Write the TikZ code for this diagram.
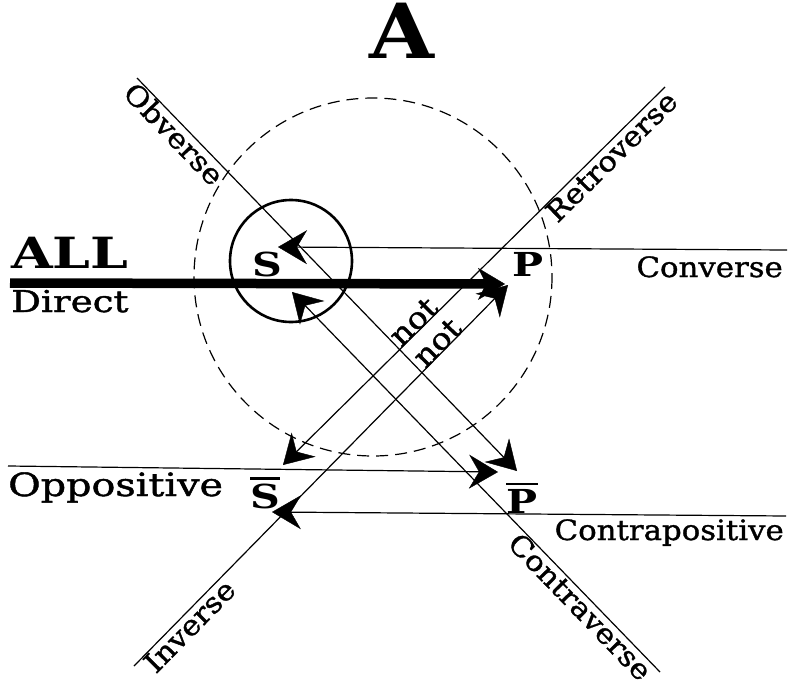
\documentclass[tikz,border=0pt]{standalone}
\usepackage{fontspec}
\setmainfont[FakeStretch=1.1]{DejaVu Serif}
\newfontfamily\lblfont[FakeStretch=1.1,FakeBold=1.2]{DejaVu Serif}
\newfontfamily\widefont[FakeStretch=1.24,FakeBold=1.4]{DejaVu Serif}
\newfontfamily\boldfont[FakeStretch=1.1]{DejaVu Serif Bold}
\newfontfamily\wideboldfont[FakeStretch=1.25]{DejaVu Serif Bold}
\usetikzlibrary{arrows.meta}
\newcommand\barred[1]{\leavevmode\vbox{\hrule height 2.8pt\kern 3.5pt\hbox{#1}}}
\begin{document}
\begin{tikzpicture}[x=1pt,y=-1pt,
  thinline/.style={line width=1.2pt},
  tipped/.style={thinline,-{Stealth[length=29pt,width=34pt,inset=10pt,line width=0.4pt]}},
  lbl/.style={font=\fontsize{28}{28}\lblfont, inner sep=1pt},
  bigl/.style={font=\fontsize{33}{33}\wideboldfont, inner sep=0pt},
]
\useasboundingbox (0,0) rectangle (793,688);

% circles
\draw[thinline, dash pattern=on 12pt off 7pt] (373,277) circle[radius=179];
\draw[line width=2.6pt] (291,261) circle[radius=61];

% title
\node[font=\fontsize{76}{76}\boldfont, inner sep=0pt, anchor=base] (title) at (402,58) {A};

% terms
\node[bigl, anchor=base] (S) at (267,276) {S};
\node[bigl, anchor=base] (P) at (528,276) {P};
\node[bigl, anchor=base] (Sb) at (265,508) {\barred{S}};
\node[bigl, anchor=base] (Pb) at (522,513) {\barred{P}};

% coordinates
\coordinate (convtip) at (278,247);
\coordinate (convend) at (787,250);
\coordinate (ctvtip) at (292,292);
\coordinate (ctvend) at (660,672);
\coordinate (obvstart) at (137,78);
\coordinate (obvtip) at (517,471);
\coordinate (retstart) at (665,87);
\coordinate (rettip) at (283,465);
\coordinate (invstart) at (134,666);
\coordinate (invtip) at (508,285);
\coordinate (dirstart) at (10,283);
\coordinate (dirtip) at (505,284);
\coordinate (oppstart) at (8,466);
\coordinate (opptip) at (498,472);
\coordinate (cpstart) at (786,516);
\coordinate (cptip) at (272,512);

% connectors
\draw[line width=9.5pt,-{Stealth[length=27pt,width=32pt,inset=8pt,line width=0.4pt]}] (dirstart) -- (dirtip);
\draw[tipped] (convend) -- (convtip);
\draw[tipped] (obvstart) -- (obvtip);
\draw[tipped] (ctvend) -- (ctvtip);
\draw[tipped] (retstart) -- (rettip);
\draw[tipped] (invstart) -- (invtip);
\draw[tipped] (oppstart) -- (opptip);
\draw[tipped] (cpstart) -- (cptip);

% labels on diagonals
\path (obvstart) -- (obvtip) node[lbl, pos=0, sloped, anchor=north west] (lobv) {Obverse};
\path (ctvtip) -- (ctvend) node[lbl, pos=0.99, sloped, anchor=north east] (lctv) {Contraverse};
\path (rettip) -- (retstart) node[lbl, pos=1, sloped, anchor=north east] (lret) {Retroverse};
\path (invstart) -- (invtip) node[lbl, pos=0.015, sloped, anchor=north west] (linv) {Inverse};
\path (rettip) -- (retstart) node[lbl, font=\fontsize{30}{30}\lblfont, pos=0.36, sloped, anchor=base] (not1) {not};
\path (invstart) -- (invtip) node[lbl, font=\fontsize{30}{30}\lblfont, pos=0.83, sloped, anchor=base] (not2) {not};

% horizontal labels
\node[font=\fontsize{43}{43}\wideboldfont, inner sep=0pt, anchor=base west] (all) at (11,268) {ALL};
\node[lbl, anchor=base west, inner sep=0pt, font=\fontsize{30}{30}\widefont] (ldir) at (11,312) {Direct};
\node[lbl, anchor=base east, inner sep=0pt] (lconv) at (783,277) {Converse};
\node[lbl, anchor=base west, inner sep=0pt, font=\fontsize{32}{32}\widefont] (lopp) at (8,496) {Oppositive};
\node[lbl, anchor=base east, inner sep=0pt] (lcp) at (784,540) {Contrapositive};
\end{tikzpicture}
\end{document}
